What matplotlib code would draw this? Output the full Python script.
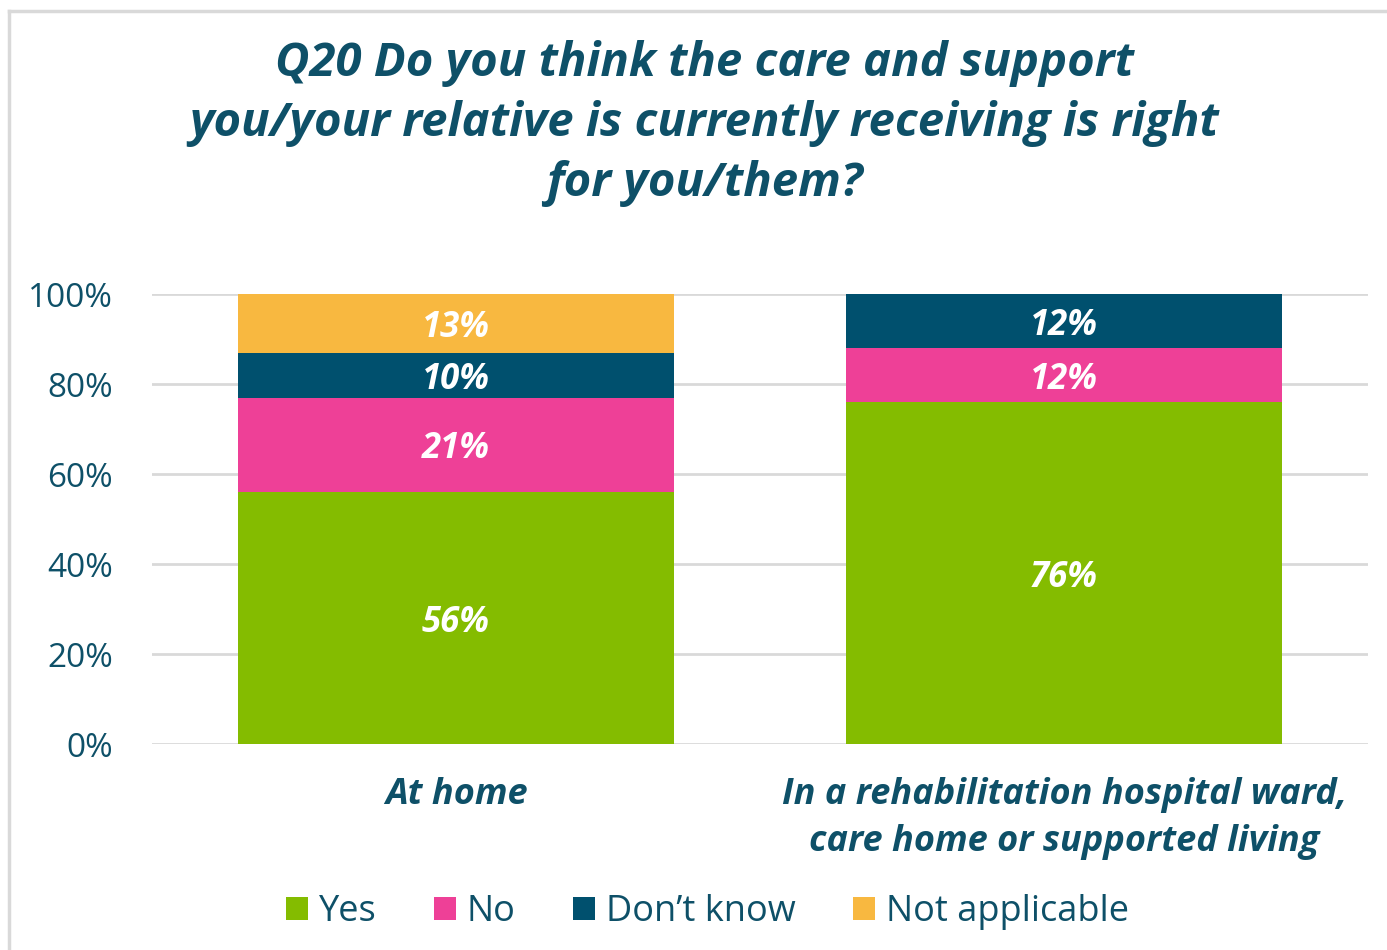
import matplotlib.pyplot as plt
from matplotlib.lines import Line2D
from matplotlib.patches import Patch

# survey responses per setting (percent)
settings = ['At home', 'In a rehabilitation hospital ward,\ncare home or supported living']
answers = ['Yes', 'No', "Don\u2019t know", 'Not applicable']
yes = [56, 76]
no = [21, 12]
dont_know = [10, 12]
not_applicable = [13, 0]
colours = ['#84BC00', '#EE4097', '#00506E', '#F8B840']

text_col = '#0E5068'
plt.rcParams['font.family'] = ['Open Sans', 'DejaVu Sans']

fig = plt.figure(figsize=(13.87, 9.5), dpi=100)
ax = fig.add_axes([0.1096, 0.2168, 0.8767, 0.4737])

x = range(len(settings))
bottom = [0, 0]
for vals, name, col in zip([yes, no, dont_know, not_applicable], answers, colours):
    bars = ax.bar(x, vals, width=0.716, bottom=bottom, color=col, label=name, zorder=3)
    for b, v, base in zip(bars, vals, bottom):
        if v > 0:
            ax.text(b.get_x() + b.get_width() / 2, base + v / 2, f'{v}%',
                    ha='center', va='center_baseline', color='white', fontsize=25,
                    fontweight='bold', fontstyle='italic', zorder=4)
    bottom = [b + v for b, v in zip(bottom, vals)]

ax.set_xlim(-0.5, 1.5)
ax.set_ylim(0, 100)
ax.set_yticks(range(0, 101, 20))
ax.set_yticklabels([f'{t}%' for t in range(0, 101, 20)], fontsize=24, color=text_col)
ax.yaxis.grid(True, color='#D9D9D9', linewidth=2, zorder=0)
ax.set_xticks(list(x))
ax.set_xticklabels(settings, fontsize=26, fontweight='bold', fontstyle='italic',
                   color=text_col, linespacing=1.38)
ax.tick_params(axis='both', length=0)
ax.tick_params(axis='y', pad=28)
ax.tick_params(axis='x', pad=24)
for s in ax.spines.values():
    s.set_visible(False)

fig.text(0.508, 0.958, 'Q20 Do you think the care and support\nyou/your relative is currently receiving is right\nfor you/them?',
         ha='center', va='top', fontsize=34, fontweight='bold', fontstyle='italic',
         color=text_col, linespacing=1.36)

handles = [Patch(facecolor=c, edgecolor='none') for c in colours]
fig.legend(handles, answers, loc='center', bbox_to_anchor=(0.51, 0.04), ncol=4,
           frameon=False, fontsize=26, labelcolor=text_col, handlelength=0.6,
           handleheight=0.6, handletextpad=0.3, columnspacing=1.6)

# light frame around the chart area
fig.add_artist(Line2D([9 / 1387, 1], [1 - 11 / 950] * 2, color='#D9D9D9', lw=2.5))
fig.add_artist(Line2D([9 / 1387] * 2, [0, 1 - 11 / 950], color='#D9D9D9', lw=2.5))

fig.savefig('out.png', dpi=100)
